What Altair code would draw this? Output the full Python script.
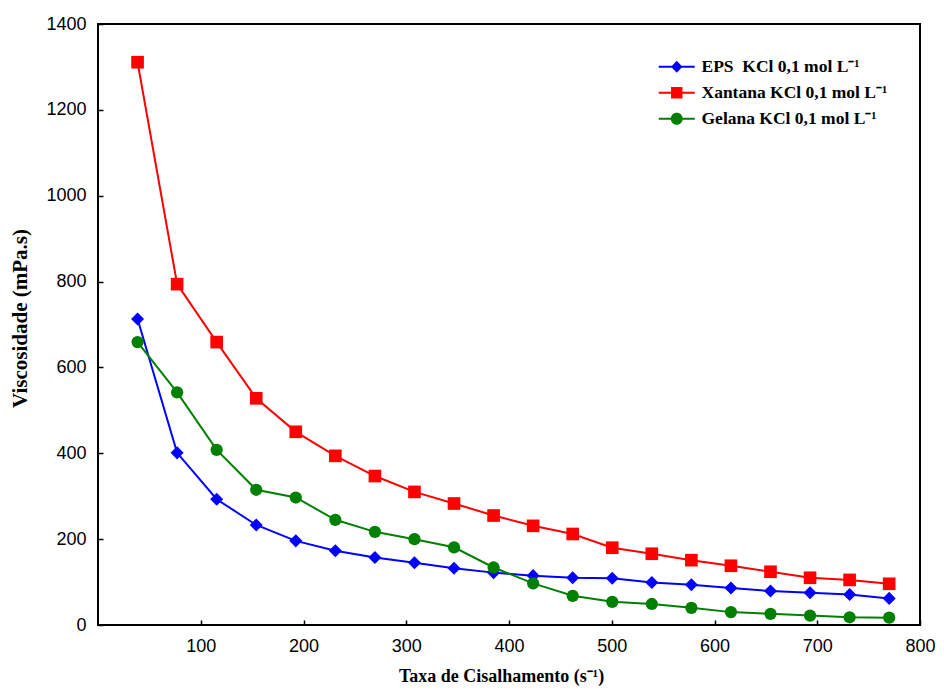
import altair as alt
import pandas as pd

shear = [38.5, 77, 115.5, 154, 192.5, 231, 269.5, 308, 346.5, 385,
         423.5, 462, 500.5, 539, 577.5, 616, 654.5, 693, 731.5, 770]
eps = [713, 401, 293, 233, 196, 173, 157, 145, 132, 122,
       115, 110, 109, 99, 94, 86, 79, 75, 71, 62]
xantana = [1311, 794, 659, 528, 450, 394, 347, 310, 283, 255,
           231, 212, 180, 166, 151, 138, 124, 110, 105, 96]
gelana = [659, 542, 408, 315, 297, 245, 217, 200, 181, 134,
          97, 68, 54, 49, 40, 30, 26, 22, 18, 17]

names = ["EPS \u00a0KCl 0,1 mol L\u207b\u00b9",
         "Xantana KCl 0,1 mol L\u207b\u00b9",
         "Gelana KCl 0,1 mol L\u207b\u00b9"]
colors = ["#0000FF", "#FF0000", "#008000"]
shapes = ["diamond", "square", "circle"]
sizes = [170, 150, 180]
legend_shapes = [
    "M-3,-0.17H3V0.17H-3Z M0,-1L0.95,0L0,1L-0.95,0Z",
    "M-3,-0.17H3V0.17H-3Z M-0.95,-0.95H0.95V0.95H-0.95Z",
    "M-3,-0.17H3V0.17H-3Z M1,0A1,1 0 1 1 -1,0A1,1 0 1 1 1,0Z",
]
x_ticks = [100, 200, 300, 400, 500, 600, 700, 800]
y_ticks = [0, 200, 400, 600, 800, 1000, 1200, 1400]

rows = []
for name, vals in zip(names, [eps, xantana, gelana]):
    for xv, yv in zip(shear, vals):
        rows.append({"serie": name, "x": xv, "y": yv})
df = pd.DataFrame(rows)

xenc = alt.X("x:Q", scale=alt.Scale(domain=[0, 800], nice=False, zero=False),
             axis=alt.Axis(values=x_ticks, title="Taxa de Cisalhamento (s\u207b\u00b9)",
                           format="d", offset=-5, tickSize=5, domain=False, grid=False,
                           labelFlush=False, labelPadding=12, titlePadding=12,
                           titleX=403, titleFontSize=18))
yenc = alt.Y("y:Q", scale=alt.Scale(domain=[0, 1400], nice=False),
             axis=alt.Axis(values=y_ticks, title="Viscosidade (mPa.s)",
                           format="d", offset=-5, tickSize=5, domain=False, grid=False,
                           labelFlush=False, labelPadding=12, titlePadding=15,
                           titleY=294, titleFontSize=21))

cscale = alt.Scale(domain=names, range=colors)

lines = alt.Chart(df).mark_line(strokeWidth=2).encode(
    x=xenc, y=yenc,
    color=alt.Color("serie:N", scale=cscale, legend=None),
    order="x:Q",
)

points = alt.Chart(df).mark_point(filled=True, opacity=1).encode(
    x=xenc, y=yenc,
    color=alt.Color("serie:N", scale=cscale, legend=None),
    shape=alt.Shape("serie:N", scale=alt.Scale(domain=names, range=shapes), legend=None),
    size=alt.Size("serie:N", scale=alt.Scale(domain=names, range=sizes), legend=None),
)

leg = alt.Legend(title=None, orient="none", legendX=570, legendY=34,
                 symbolSize=144, symbolOpacity=1, symbolStrokeWidth=0,
                 labelFont="Liberation Serif", labelFontWeight="bold",
                 labelFontSize=17.5, labelColor="black", labelOffset=16,
                 labelLimit=0, rowPadding=7, padding=0)

legend_layer = alt.Chart(df).mark_point(filled=True, opacity=0).encode(
    x=xenc, y=yenc,
    color=alt.Color("serie:N", scale=cscale, legend=leg),
    shape=alt.Shape("serie:N", scale=alt.Scale(domain=names, range=legend_shapes), legend=leg),
)

chart = alt.layer(lines, points, legend_layer).resolve_scale(
    color="independent", shape="independent"
).properties(
    width=822, height=601, autosize="none",
    padding={"left": 90, "top": 16, "right": 16, "bottom": 61},
).configure_view(
    stroke="black", strokeWidth=2
).configure_axis(
    labelFont="Liberation Sans", labelFontSize=18, labelColor="black",
    tickColor="black", tickWidth=1.5,
    titleFont="Liberation Serif", titleFontWeight="bold",
    titleColor="black",
)

chart.save("out.html", embed_options={"renderer": "svg", "actions": False})
